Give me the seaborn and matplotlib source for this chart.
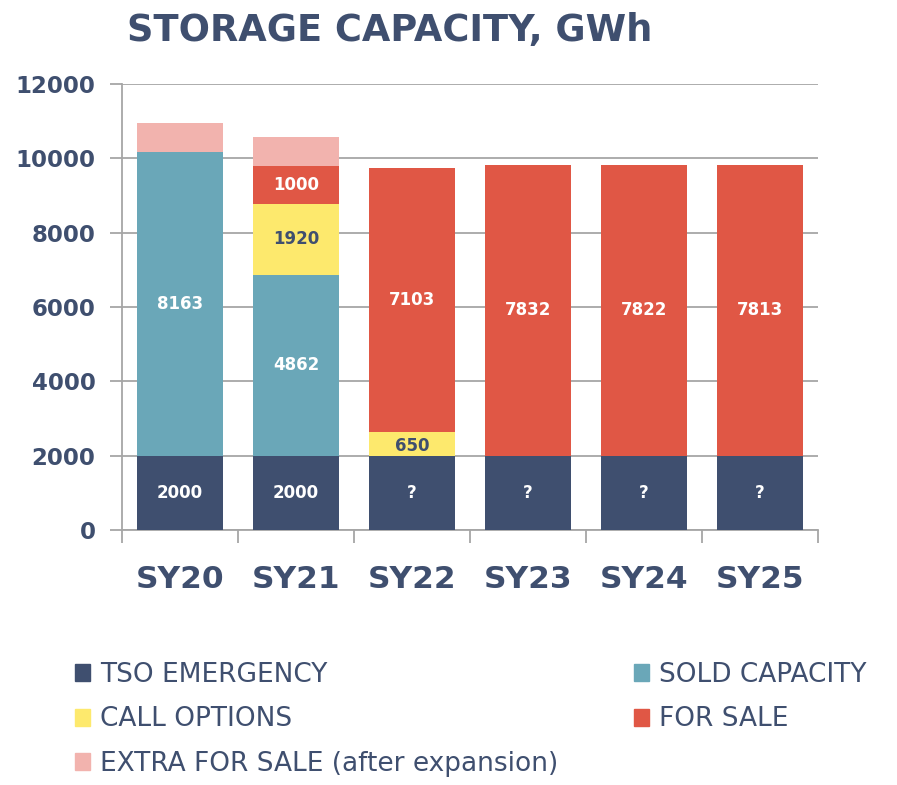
import numpy as np
import pandas as pd
import matplotlib
matplotlib.use('Agg')
import matplotlib.pyplot as plt
import seaborn as sns
from matplotlib.patches import Patch

# Chart data (GWh)
years = ['SY20', 'SY21', 'SY22', 'SY23', 'SY24', 'SY25']
tso_emergency = [2000, 2000, 2000, 2000, 2000, 2000]
sold_capacity = [8163, 4862, 0, 0, 0, 0]
call_options = [0, 1920, 650, 0, 0, 0]
for_sale = [0, 1000, 7103, 7832, 7822, 7813]
extra_for_sale = [780, 780, 0, 0, 0, 0]

tso_labels = ['2000', '2000', '?', '?', '?', '?']

navy = '#3f4f6f'
teal = '#6aa7b8'
yellow = '#fde96d'
red = '#e05745'
pink = '#f2b3ae'
grid_gray = '#a6a6a6'

sns.set_theme(style='white')
plt.rcParams['font.family'] = ['DejaVu Sans']

fig = plt.figure(figsize=(8.97, 7.85), dpi=100)
ax = fig.add_axes([122 / 897, 1 - 530 / 785, (818 - 122) / 897, (530 - 84) / 785])

layers = [
    ('TSO EMERGENCY', tso_emergency, navy),
    ('SOLD CAPACITY', sold_capacity, teal),
    ('CALL OPTIONS', call_options, yellow),
    ('FOR SALE', for_sale, red),
    ('EXTRA FOR SALE (after expansion)', extra_for_sale, pink),
]

bottom = np.zeros(len(years))
bottoms = {}
for name, vals, col in layers:
    df = pd.DataFrame({'year': years, 'value': vals})
    sns.barplot(data=df, x='year', y='value', order=years, color=col,
                saturation=1, width=0.74, bottom=bottom.copy(),
                linewidth=0, ax=ax, zorder=3)
    bottoms[name] = bottom.copy()
    bottom = bottom + np.array(vals)

# Value labels inside the segments
lab_kw = dict(ha='center', va='center', fontsize=12, fontweight='bold', zorder=5)
for i in range(len(years)):
    b = bottoms['TSO EMERGENCY'][i]
    ax.text(i, b + tso_emergency[i] / 2, tso_labels[i], color='white', **lab_kw)
    if sold_capacity[i]:
        b = bottoms['SOLD CAPACITY'][i]
        ax.text(i, b + sold_capacity[i] / 2, str(sold_capacity[i]), color='white', **lab_kw)
    if call_options[i]:
        b = bottoms['CALL OPTIONS'][i]
        ax.text(i, b + call_options[i] / 2 - (60 if call_options[i] < 1000 else 0),
                str(call_options[i]), color=navy, **lab_kw)
    if for_sale[i]:
        b = bottoms['FOR SALE'][i]
        ax.text(i, b + for_sale[i] / 2, str(for_sale[i]), color='white', **lab_kw)

ax.set_ylim(0, 12000)
ax.set_xlim(-0.5, len(years) - 0.5)
ax.set_yticks(range(0, 12001, 2000))
ax.yaxis.grid(True, color=grid_gray, linewidth=1.3, zorder=0)
ax.set_axisbelow(True)
ax.set_xlabel('')
ax.set_ylabel('')

for s in ['top', 'right']:
    ax.spines[s].set_visible(False)
for s in ['left', 'bottom']:
    ax.spines[s].set_color(grid_gray)
    ax.spines[s].set_linewidth(1.3)

ax.tick_params(axis='y', length=9, width=1.3, color=grid_gray, direction='out',
               labelsize=16.5, labelcolor=navy, pad=10, left=True)
for t in ax.get_yticklabels():
    t.set_fontweight('bold')

ax.set_xticks(np.arange(-0.5, len(years), 1.0), minor=True)
ax.tick_params(axis='x', which='minor', length=9, width=1.3, color=grid_gray,
               direction='out', bottom=True)
ax.tick_params(axis='x', which='major', length=0, labelsize=22.5, labelcolor=navy, pad=25)
for t in ax.get_xticklabels():
    t.set_fontweight('bold')

fig.text(390 / 897, 1 - 31 / 785, 'STORAGE CAPACITY, GWh', ha='center', va='center',
         fontsize=26.5, fontweight='bold', color=navy)

# Legend split in two columns
leg_font = {'family': ['DejaVu Sans'], 'size': 19}
left_handles = [Patch(color=navy), Patch(color=yellow), Patch(color=pink)]
left_labels = ['TSO EMERGENCY', 'CALL OPTIONS', 'EXTRA FOR SALE (after expansion)']
right_handles = [Patch(color=teal), Patch(color=red)]
right_labels = ['SOLD CAPACITY', 'FOR SALE']

leg_kw = dict(loc='upper left', frameon=False, prop=leg_font, handlelength=0.55,
              handleheight=0.6, handletextpad=0.4, labelspacing=0.7,
              labelcolor=navy, borderaxespad=0, borderpad=0)
leg1 = fig.legend(left_handles, left_labels, bbox_to_anchor=(75 / 897, 1 - 662 / 785), **leg_kw)
leg2 = fig.legend(right_handles, right_labels, bbox_to_anchor=(634 / 897, 1 - 662 / 785), **leg_kw)

fig.savefig('out.png', dpi=100)
